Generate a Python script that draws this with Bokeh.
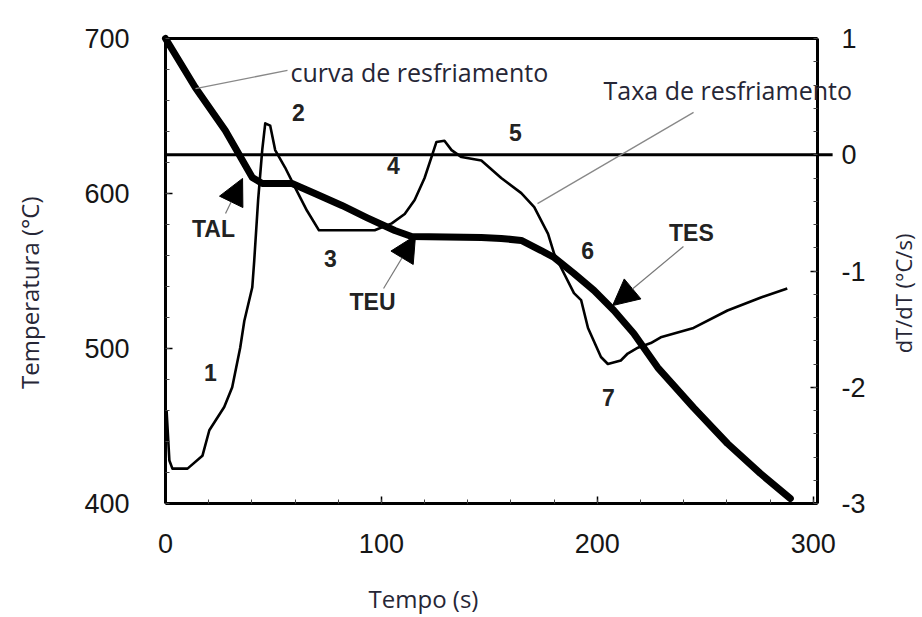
from math import pi
from bokeh.plotting import figure
from bokeh.models import (Range1d, LinearAxis, Label, Arrow, NormalHead,
                          FixedTicker, PrintfTickFormatter)
from bokeh.embed import file_html
from bokeh.resources import INLINE

# ---- data -------------------------------------------------------------
time_cool = [0, 13.8, 27.7, 40.2, 44.8, 58.6, 69.2, 81.7, 93.2, 106.2, 114,
             146.3, 155.5, 164.8, 174, 180, 189.2, 198.5, 207.7, 216.9, 228,
             244.6, 260.3, 275.5, 289.4]
temp_cool = [700, 668.4, 640.6, 610.3, 606.5, 606.5, 600, 592.3, 584.5, 576.1,
             572.3, 571.6, 571, 569.7, 563.2, 558.7, 548.4, 537.4, 524.5,
             509.7, 487.7, 461.9, 438.7, 419.4, 403.2]

time_rate = [0.5, 1.8, 3.2, 10.2, 17.1, 20.3, 27.2, 30.9, 34.6, 36.5, 40.2,
             41.1, 42.9, 44.8, 46.2, 48.5, 50.8, 55.4, 60, 65.5, 71.1, 96.9,
             104.8, 110.8, 115.4, 120, 123.2, 125.5, 129.2, 132.5, 137.1,
             146.3, 155.5, 164.8, 170.8, 177.2, 180, 183.2, 189.2, 192.5,
             195.7, 201.7, 204.9, 210.9, 214.1, 218.8, 224.8, 229.4, 244.6,
             260.3, 275.5, 288]
rate = [-2.2, -2.63, -2.70, -2.70, -2.59, -2.37, -2.17, -2.0, -1.66, -1.43,
        -1.14, -0.91, -0.39, 0.04, 0.27, 0.25, 0.04, -0.11, -0.28, -0.48,
        -0.65, -0.65, -0.59, -0.51, -0.39, -0.20, -0.02, 0.11, 0.12, 0.04,
        -0.02, -0.05, -0.20, -0.33, -0.45, -0.68, -0.85, -0.97, -1.19, -1.25,
        -1.49, -1.74, -1.80, -1.77, -1.71, -1.66, -1.62, -1.57, -1.49, -1.34,
        -1.23, -1.15]

x_ticks = [0, 100, 200, 300]
temp_ticks = [400, 500, 600, 700]
rate_ticks = [-3, -2, -1, 0, 1]

# point labels: (text, time, temperature)
point_labels = [("1", 20.8, 484.5), ("2", 61.6, 652.3), ("3", 76.4, 558.1),
                ("4", 105.6, 618.1), ("5", 162.1, 639.4), ("6", 195.5, 563.2),
                ("7", 205.2, 468.4), ("TAL", 22.2, 577.4),
                ("TEU", 95.9, 530.3), ("TES", 243.6, 574.8)]
# arrows: (t_start, T_start, t_end, T_end)
arrows = [(27.8, 587.1, 35.7, 609.7), (101.0, 538.7, 115.8, 572.9),
          (239.9, 565.8, 207.1, 527.7)]
# curve names with leader lines: (text, t_text, T_text, t0, T0, t1, T1)
names = [("curva de resfriamento", 57.9, 678.1, 56.5, 679.4, 13.9, 667.7),
         ("Taxa de resfriamento", 202.9, 666.5, 244.6, 652.3, 172.3, 593.5)]

# ---- figure -------------------------------------------------------------
T_MIN, T_MAX, R_MIN, R_MAX, X_MAX = 400, 700, -3, 1, 302
W, H = 922, 617
FL, FR, FT, FB = 165, 817, 38, 503          # frame box in pixels
sx = (FR - FL) / X_MAX
sy = (FB - FT) / (T_MAX - T_MIN)
sr = (FB - FT) / (R_MAX - R_MIN)

p = figure(width=W, height=H,
           x_range=Range1d(-FL / sx, X_MAX + (W - FR) / sx),
           y_range=Range1d(T_MIN - (H - FB) / sy, T_MAX + FT / sy),
           output_backend="svg", toolbar_location=None,
           min_border=0, min_border_left=0, min_border_right=0,
           min_border_top=0, min_border_bottom=0)
p.extra_y_ranges = {"rate": Range1d(R_MIN - (H - FB) / sr, R_MAX + FT / sr)}
p.grid.visible = False
p.outline_line_color = None
p.background_fill_color = "white"
p.border_fill_color = "white"

bottom = p.xaxis[0]
left = p.yaxis[0]
right = LinearAxis(y_range_name="rate")
p.add_layout(right, "right")
top = LinearAxis()
p.add_layout(top, "above")

bottom.fixed_location = T_MIN
bottom.bounds = (0, X_MAX)
left.fixed_location = 0
left.bounds = (T_MIN, T_MAX)
right.fixed_location = X_MAX
right.bounds = (R_MIN, R_MAX)
top.fixed_location = T_MAX
top.bounds = (0, X_MAX)

bottom.ticker = FixedTicker(ticks=x_ticks,
                            minor_ticks=list(range(0, 301, 20)))
left.ticker = FixedTicker(ticks=temp_ticks,
                          minor_ticks=list(range(400, 701, 20)))
right.ticker = FixedTicker(ticks=rate_ticks,
                           minor_ticks=[i / 5 for i in range(-15, 6)])
top.ticker = FixedTicker(ticks=[], minor_ticks=[])
top.major_label_text_alpha = 0

for ax in [bottom, left, right, top]:
    ax.axis_line_width = 3
    ax.axis_line_color = "black"
    ax.major_tick_in = 7
    ax.major_tick_out = 0
    ax.minor_tick_in = 4
    ax.minor_tick_out = 0
    ax.major_tick_line_width = 1.5
    ax.major_tick_line_color = "black"
    ax.minor_tick_line_color = "#444444"
    ax.major_label_text_font = "Liberation Sans"
    ax.major_label_text_font_size = "27px"
    ax.major_label_text_color = "#161616"
    ax.formatter = PrintfTickFormatter(format="%d")
    ax.axis_label = None
bottom.major_label_standoff = 30
left.major_label_standoff = 36
right.major_label_standoff = 24

# zero line of the rate axis (reaches a little past the right axis)
p.line([x_ticks[0], x_ticks[-1] + 9], [0, 0], y_range_name="rate",
       line_color="black", line_width=3)

# curves
p.line(time_rate, rate, y_range_name="rate", line_color="black",
       line_width=2.6, line_join="round")
p.line(time_cool, temp_cool, line_color="black", line_width=7,
       line_join="round", line_cap="round")

# point labels
for txt, tx, ty in point_labels:
    p.add_layout(Label(x=tx, y=ty, text=txt, text_align="center",
                       text_baseline="middle", text_font="Liberation Sans",
                       text_font_size="23px", text_font_style="bold",
                       text_color="#222222"))

for x0, y0, x1, y1 in arrows:
    p.add_layout(Arrow(x_start=x0, y_start=y0, x_end=x1, y_end=y1,
                       line_color="#777777", line_width=1.2,
                       end=NormalHead(size=26, fill_color="black",
                                      line_color="black")))

for txt, tx, ty, x0, y0, x1, y1 in names:
    p.add_layout(Label(x=tx, y=ty, text=txt, text_align="left",
                       text_baseline="middle", text_font="Open Sans",
                       text_font_size="25px", text_color="#262636"))
    p.add_layout(Arrow(x_start=x0, y_start=y0, x_end=x1, y_end=y1,
                       line_color="#888888", line_width=1.3, end=None))

# axis titles
p.add_layout(Label(x=119.5, y=338.7, text="Tempo (s)", text_align="center",
                   text_baseline="middle", text_font="Open Sans",
                   text_font_size="24px", text_color="#262636"))
p.add_layout(Label(x=-63, y=536, text="Temperatura (°C)", angle=pi / 2,
                   text_align="center", text_baseline="middle",
                   text_font="Open Sans", text_font_size="24px",
                   text_color="#262636"))
p.add_layout(Label(x=341.5, y=535.5, text="dT/dT (°C/s)", angle=pi / 2,
                   text_align="center", text_baseline="middle",
                   text_font="Open Sans", text_font_size="22px",
                   text_color="#262636"))

open("out.html", "w").write(file_html(p, INLINE))
